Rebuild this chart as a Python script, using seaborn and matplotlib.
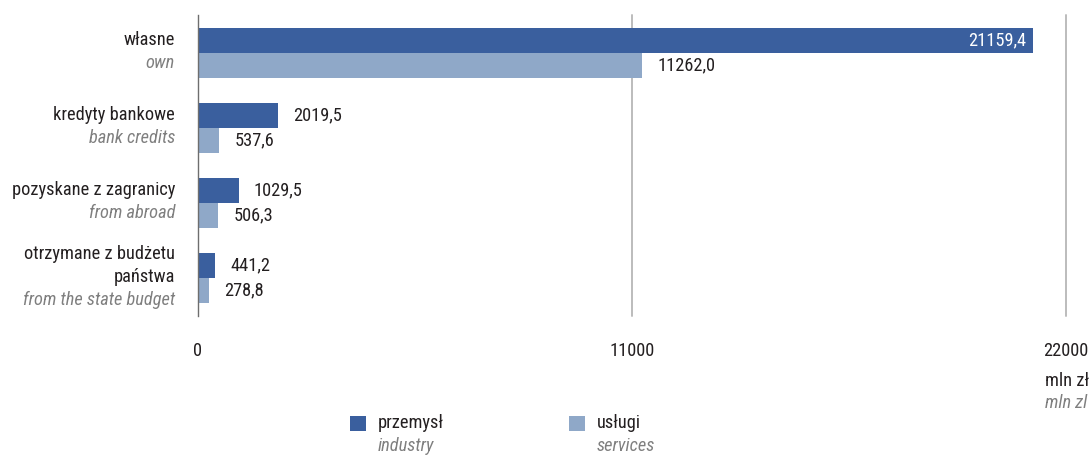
import matplotlib
matplotlib.use("Agg")
import matplotlib.pyplot as plt
from matplotlib import font_manager
from matplotlib.patches import Rectangle
from matplotlib.transforms import blended_transform_factory
import seaborn as sns
import pandas as pd

# --- data -------------------------------------------------------------
categories_pl = ["własne", "kredyty bankowe", "pozyskane z zagranicy",
                 "otrzymane z budżetu\npaństwa"]
categories_en = ["own", "bank credits", "from abroad", "from the state budget"]
industry = [21159.4, 2019.5, 1029.5, 441.2]
services = [11262.0, 537.6, 506.3, 278.8]
series_pl = ["przemysł", "usługi"]
series_en = ["industry", "services"]
x_ticks = [0, 11000, 22000]
unit_pl = "mln zł"
unit_en = "mln zl"

# --- style ------------------------------------------------------------
DARK = "#3a5f9e"
LIGHT = "#8fa8c8"
TEXT = "#231f20"
GREY_TEXT = "#7f7f7f"
GRID = "#bcbcbc"
AXIS = "#6e6e6e"
FS = 13.2

sns.set_theme(style="white")
available = {f.name for f in font_manager.fontManager.ttflist}
family = None
for cand in ["Liberation Sans Narrow", "Roboto Condensed", "Open Sans Condensed",
             "Noto Sans Condensed"]:
    if cand in available:
        family = cand
        break
if family is None:
    family = "DejaVu Sans"
    plt.rcParams["font.stretch"] = "condensed"
plt.rcParams["font.family"] = [family, "DejaVu Sans"]

df = pd.DataFrame({
    "category": categories_pl * 2,
    "value": industry + services,
    "series": [series_pl[0]] * len(industry) + [series_pl[1]] * len(services),
})

fig = plt.figure(figsize=(10.92, 4.58), dpi=100)
ax = fig.add_axes([0.1813, 0.31, 0.7949, 0.6572])

sns.barplot(data=df, y="category", x="value", hue="series", orient="h",
            palette=[DARK, LIGHT], width=0.667, saturation=1, legend=False,
            linewidth=0, ax=ax, zorder=2)

ax.set_xlim(0, 22000)
ax.set_ylim(3.507, -0.507)
for s in ["top", "right", "bottom"]:
    ax.spines[s].set_visible(False)
ax.spines["left"].set_color(AXIS)
ax.spines["left"].set_linewidth(1.0)
ax.spines["left"].set_zorder(3)
for xv in x_ticks[1:]:
    ax.axvline(xv, color=GRID, lw=1.4, zorder=1, clip_on=False)

ax.set_xticks(x_ticks)
ax.set_xticklabels([str(v) for v in x_ticks], fontsize=FS, color=TEXT)
ax.tick_params(axis="x", length=0, pad=19)
ax.set_yticks(range(len(categories_pl)))
ax.set_yticklabels([])
ax.tick_params(axis="y", length=0)
ax.set_xlabel("")
ax.set_ylabel("")

# category labels: Polish lines in black, English line in grey italics
line_pt = 16.6
ytrans = blended_transform_factory(ax.transAxes, ax.transData)
for i, (pl, en) in enumerate(zip(categories_pl, categories_en)):
    lines = pl.split("\n")
    n = len(lines) + 1
    for j, ln in enumerate(lines):
        off = -(j - (n - 1) / 2) * line_pt + 1
        ax.annotate(ln, xy=(0, i), xycoords=ytrans, xytext=(-16.5, off),
                    textcoords="offset points", ha="right", va="center",
                    fontsize=FS, color=TEXT)
    off = -((n - 1) - (n - 1) / 2) * line_pt + 1
    ax.annotate(en, xy=(0, i), xycoords=ytrans, xytext=(-16.5, off),
                textcoords="offset points", ha="right", va="center",
                fontsize=FS, color=GREY_TEXT, style="italic")

# value labels beside (or inside) each bar
for cont in ax.containers:
    for bar in cont:
        w = bar.get_width()
        yc = bar.get_y() + bar.get_height() / 2
        txt = f"{w:.1f}".replace(".", ",")
        if w > 15000:
            ax.annotate(txt, xy=(w, yc), xytext=(-5, 0), textcoords="offset points",
                        ha="right", va="center", fontsize=FS, color="white")
        else:
            ax.annotate(txt, xy=(w, yc), xytext=(11, 0), textcoords="offset points",
                        ha="left", va="center", fontsize=FS, color=TEXT)

# unit label under the last tick
fig.text(1045 / 1092, 1 - 381 / 458, unit_pl, ha="left", va="center",
         fontsize=FS, color=TEXT)
fig.text(1045 / 1092, 1 - 403 / 458, unit_en, ha="left", va="center",
         fontsize=FS, color=GREY_TEXT, style="italic")

# legend
W, H = 1092, 458
for (x0, col, pl, en) in [(350, DARK, series_pl[0], series_en[0]),
                          (569, LIGHT, series_pl[1], series_en[1])]:
    fig.add_artist(Rectangle((x0 / W, 1 - 431 / H), 16 / W, 15 / H,
                             transform=fig.transFigure, color=col, lw=0))
    fig.text((x0 + 28) / W, 1 - 423 / H, pl, ha="left", va="center",
             fontsize=FS, color=TEXT)
    fig.text((x0 + 28) / W, 1 - 446 / H, en, ha="left", va="center",
             fontsize=FS, color=GREY_TEXT, style="italic")

fig.savefig("out.png", dpi=100, facecolor="white")
